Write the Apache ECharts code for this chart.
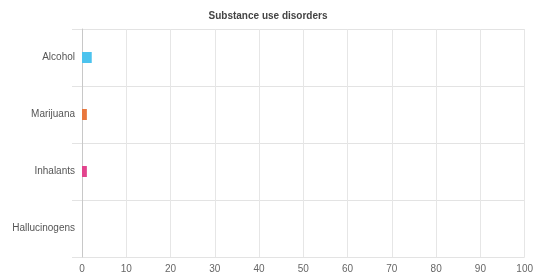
<!DOCTYPE html>
<html>
<head>
<meta charset="utf-8">
<script src="https://cdn.jsdelivr.net/npm/echarts@6/dist/echarts.min.js"></script>
<style>
  html, body { margin: 0; padding: 0; background: #fff; }
  #chart { width: 536px; height: 275px; }
</style>
</head>
<body>
<div id="chart"></div>
<script>
const categories = ["Alcohol", "Marijuana", "Inhalants", "Hallucinogens"];
const values = [2.2, 1.1, 1.1, 0];
const barColors = ["#4cc3ee", "#e9773d", "#e2448d", "#8e6fd8"];
const xTicks = [0, 10, 20, 30, 40, 50, 60, 70, 80, 90, 100];

const chart = echarts.init(document.getElementById("chart"));

const option = {
    animation: false,
    title: {
        text: "Substance use disorders",
        left: "center",
        top: 6,
        textStyle: {
            fontFamily: "Liberation Sans, Arial, sans-serif",
            fontSize: 10,
            fontWeight: "bold",
            color: "#444"
        }
    },
    grid: { left: 82, right: 9, top: 29, bottom: 18 },
    xAxis: {
        type: "value",
        min: xTicks[0],
        max: xTicks[xTicks.length - 1],
        interval: 10,
        axisLine: { show: false },
        axisTick: { show: false },
        axisLabel: {
            fontFamily: "Liberation Sans, Arial, sans-serif",
            fontSize: 10,
            color: "#666",
            margin: 7
        },
        splitLine: { lineStyle: { color: "#e6e6e6", width: 1 } }
    },
    yAxis: {
        type: "category",
        data: categories,
        inverse: true,
        axisLine: { show: true, lineStyle: { color: "#c8c8c8" } },
        axisTick: { show: true, length: 10, lineStyle: { color: "#e3e3e3" } },
        axisLabel: {
            fontFamily: "Liberation Sans, Arial, sans-serif",
            fontSize: 10,
            color: "#555",
            margin: 7
        },
        splitLine: { show: true, lineStyle: { color: "#e3e3e3" } }
    },
    series: [{
        type: "bar",
        barWidth: 11,
        data: values.map((v, i) => ({ value: v, itemStyle: { color: barColors[i] } }))
    }]
};

chart.setOption(option);
</script>
</body>
</html>
